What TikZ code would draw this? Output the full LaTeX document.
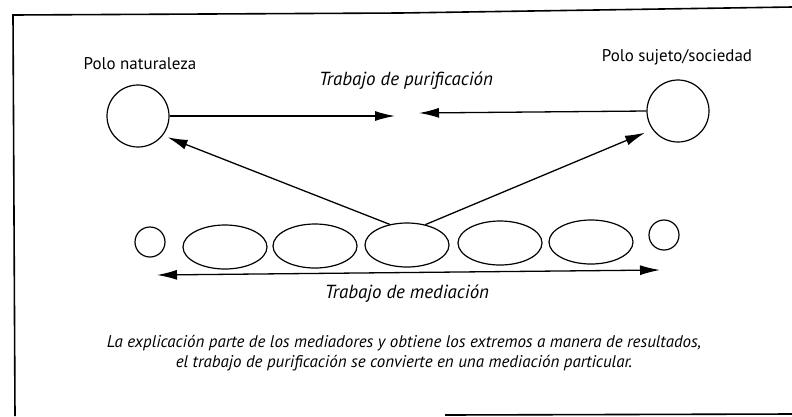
\documentclass[tikz,border=0pt]{standalone}
\usepackage{fontspec}
\setmainfont{PT Sans}
\usetikzlibrary{shapes.geometric,arrows.meta}
\begin{document}
\begin{tikzpicture}[x=1bp,y=-1bp,
  pole/.style={draw,line width=1.2bp,circle,minimum size=62bp,inner sep=0pt},
  small/.style={draw,line width=1.2bp,circle,minimum size=30bp,inner sep=0pt},
  med/.style={draw,line width=1.2bp,ellipse,minimum width=84bp,minimum height=44bp,inner sep=0pt},
  tip/.tip={Latex[length=20bp,width=10bp]},
  conn/.style={line width=1.3bp,-tip},
  lbl/.style={font=\fontsize{17}{19}\selectfont,inner sep=0pt},
  ilbl/.style={font=\fontsize{19}{21}\selectfont\itshape,inner sep=0pt},
  captext/.style={font=\fontsize{17}{20}\selectfont\itshape,inner sep=0pt,align=center},
  framel/.style={line width=1.6bp}]
\useasboundingbox (0,0) rectangle (792,416);
% frame
\draw[framel] (15,416) -- (13,15) -- (400,13) -- (792,7);
\draw[framel] (445,415) -- (792,414);
% poles
\node[pole] (nat) at (138,116) {};
\node[pole] (suj) at (678,111) {};
\node[lbl] (natl) at (140,64) {Polo naturaleza};
\node[lbl] (sujl) at (677,57) {Polo sujeto/sociedad};
\node[ilbl] (pur) at (406,81) {Trabajo de purificación};
% mediators
\node[small] (s1) at (150,242) {};
\node[med] (m1) at (225,247) {};
\node[med] (m2) at (315,246) {};
\node[med] (m3) at (407,245) {};
\node[med] (m4) at (500,243) {};
\node[med] (m5) at (591,242) {};
\node[small] (s2) at (664,235) {};
% purification arrows
\coordinate (pl) at (395,116);
\coordinate (pr) at (419,113);
\draw[conn] (nat.east) -- (pl);
\draw[conn] (suj.west) -- (pr);
% from mediator to poles
\draw[conn,shorten >=5bp] (m3.130) -- (nat.-38);
\draw[conn,shorten >=8bp] (m3.48) -- (suj.216);
% mediation arrow
\coordinate (ml) at (157,275);
\coordinate (mr) at (660,270);
\draw[line width=1.3bp,tip-tip] (ml) -- (mr);
\node[ilbl] (medl) at (407,294) {Trabajo de mediación};
\node[captext] (capt) at (404,353) {La explicación parte de los mediadores y obtiene los extremos a manera de resultados,\\el trabajo de purificación se convierte en una mediación particular.};
\end{tikzpicture}
\end{document}
